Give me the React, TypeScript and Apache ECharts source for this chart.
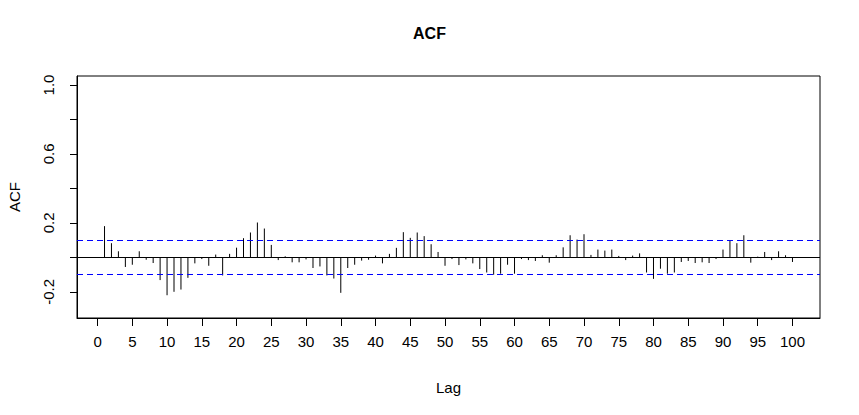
import React, { useEffect, useRef } from "react";
import * as echarts from "echarts";

const lags: number[] = Array.from({ length: 100 }, (_, i) => i + 1);
const acfValues: number[] = [
  0.181, 0.082, 0.035, -0.056, -0.043, 0.035, -0.014, -0.033, -0.132, -0.22,
  -0.2, -0.187, -0.119, -0.035, -0.01, -0.049, 0.016, -0.105, 0.02, 0.056,
  0.111, 0.144, 0.202, 0.167, 0.072, -0.016, 0.006, -0.029, -0.029, -0.012,
  -0.062, -0.053, -0.105, -0.123, -0.206, -0.062, -0.043, -0.019, -0.014, 0.01,
  -0.035, 0.02, 0.055, 0.146, 0.113, 0.144, 0.123, 0.076, 0.031, -0.049,
  -0.01, -0.045, -0.012, -0.035, -0.068, -0.088, -0.101, -0.095, -0.043, -0.095,
  -0.01, -0.016, -0.021, 0.012, -0.031, 0.012, 0.058, 0.128, 0.103, 0.134,
  0.014, 0.045, 0.039, 0.045, 0.008, -0.016, 0.01, 0.023, -0.088, -0.125,
  -0.066, -0.095, -0.088, -0.027, -0.021, -0.033, -0.029, -0.033, -0.01, 0.045,
  0.095, 0.082, 0.128, -0.031, 0.004, 0.031, -0.016, 0.035, 0.012, -0.027,
];
const confLimit = 0.095;
const xTicks: number[] = Array.from({ length: 21 }, (_, i) => i * 5);
const yTicks: number[] = [-0.2, 0, 0.2, 0.4, 0.6, 0.8, 1.0];
const yLabels: number[] = [-0.2, 0.2, 0.6, 1.0];

const FONT = "'Liberation Sans', Arial, Helvetica, sans-serif";

export default function App() {
  const ref = useRef<HTMLDivElement>(null);
  useEffect(() => {
    if (!ref.current) return;
    const chart = echarts.init(ref.current, null, { renderer: "svg" });
    const data = lags.map((l, i) => [l, acfValues[i]]);
    chart.setOption({
      animation: false,
      backgroundColor: "#ffffff",
      title: {
        text: "ACF",
        left: "center",
        top: 20,
        textStyle: { fontFamily: FONT, fontSize: 16, fontWeight: "bold", color: "#000" },
      },
      grid: {
        left: 77,
        right: 39,
        top: 76,
        bottom: 97,
        outerBoundsMode: "none",
        containLabel: false,
        show: true,
        borderColor: "#000",
        borderWidth: 1,
        backgroundColor: "transparent",
      },
      xAxis: {
        type: "value",
        min: -2.96,
        max: 103.96,
        name: "Lag",
        nameLocation: "middle",
        nameGap: 62,
        nameTextStyle: { fontFamily: FONT, fontSize: 15, color: "#000" },
        axisLine: { show: true, onZero: false, lineStyle: { color: "#000", width: 1 } },
        axisTick: { show: true, customValues: xTicks, length: 8, inside: false, lineStyle: { color: "#000" } },
        axisLabel: {
          customValues: xTicks,
          margin: 16,
          fontFamily: FONT,
          fontSize: 15,
          color: "#000",
        },
        splitLine: { show: false },
      },
      yAxis: {
        type: "value",
        min: -0.352,
        max: 1.052,
        name: "ACF",
        nameLocation: "middle",
        nameRotate: 90,
        nameGap: 55,
        nameTextStyle: { fontFamily: FONT, fontSize: 15, color: "#000" },
        axisLine: { show: true, onZero: false, lineStyle: { color: "#000", width: 1 } },
        axisTick: { show: true, customValues: yTicks, length: 7, inside: false, lineStyle: { color: "#000" } },
        axisLabel: {
          customValues: yLabels,
          rotate: 90,
          margin: 21,
          fontFamily: FONT,
          fontSize: 15,
          color: "#000",
          formatter: (v: number) => v.toFixed(1),
        },
        splitLine: { show: false },
      },
      series: [
        {
          type: "custom",
          data,
          renderItem: (params: any, api: any) => {
            const x = api.value(0);
            const y = api.value(1);
            const p0 = api.coord([x, 0]);
            const p1 = api.coord([x, y]);
            return {
              type: "line",
              shape: { x1: p0[0], y1: p0[1], x2: p1[0], y2: p1[1] },
              style: { stroke: "#000", lineWidth: 1 },
            };
          },
          markLine: {
            silent: true,
            symbol: "none",
            label: { show: false },
            data: [
              { yAxis: 0, lineStyle: { color: "#000", type: "solid", width: 1 } },
              { yAxis: confLimit, lineStyle: { color: "#0000ff", type: [6, 4], width: 1 } },
              { yAxis: -confLimit, lineStyle: { color: "#0000ff", type: [6, 4], width: 1 } },
            ],
          },
        },
      ],
    });
    return () => chart.dispose();
  }, []);
  return (
    <div
      ref={ref}
      style={{ position: "fixed", left: 0, top: 0, width: 859, height: 415 }}
    />
  );
}
